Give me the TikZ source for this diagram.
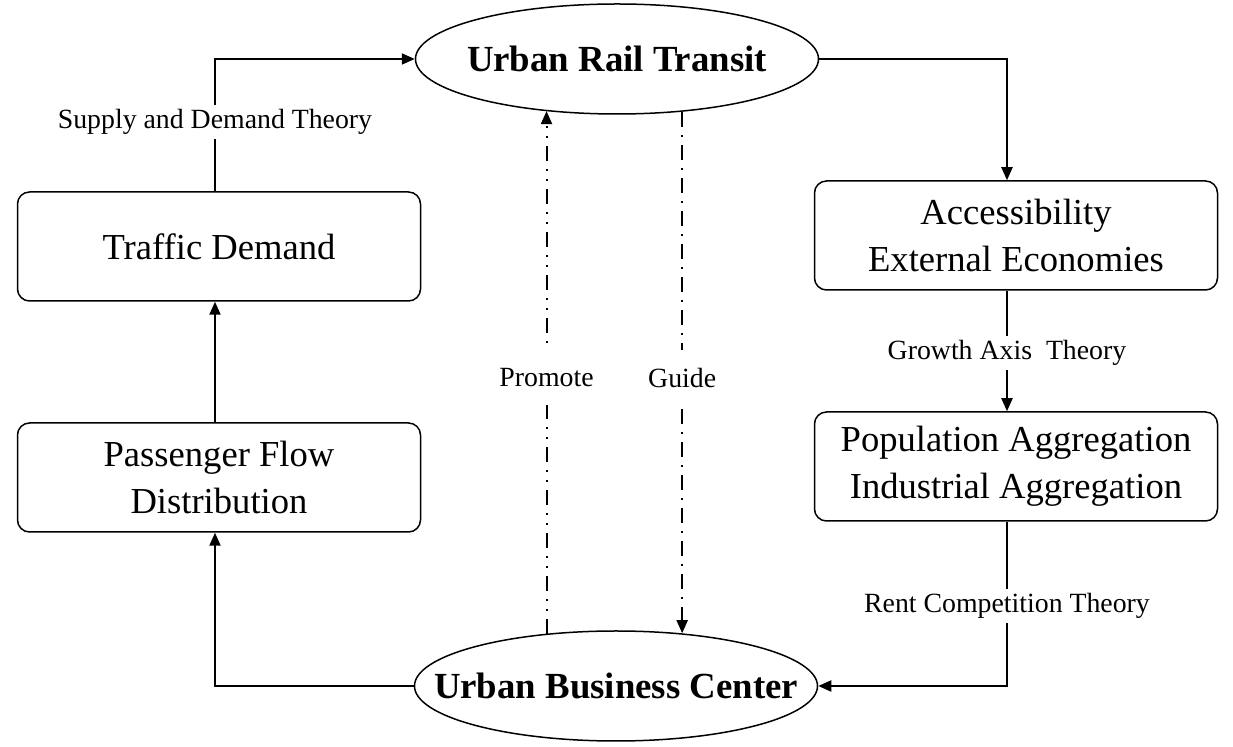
\documentclass[tikz,border=0pt]{standalone}
\usepackage{fontspec}
\setmainfont{Liberation Serif}
\usetikzlibrary{arrows.meta,calc,shapes.geometric}
\begin{document}
\begin{tikzpicture}[x=0.5pt,y=-0.5pt,
  box/.style={draw,line width=0.75pt,rounded corners=6pt,minimum width=201.5pt,minimum height=54.5pt,align=center,font=\fontsize{18.3}{23.5}\selectfont,inner sep=0pt},
  oval/.style={draw,ellipse,line width=0.75pt,minimum width=201.5pt,minimum height=55pt,inner sep=0pt,font=\fontsize{18.4}{22}\selectfont\bfseries},
  conn/.style={line width=1pt,-{Triangle[length=6.5pt,width=5.5pt]}},
  lbl/.style={fill=white,inner xsep=1pt,inner ysep=2pt,font=\fontsize{13.9}{16}\selectfont},
  dlbl/.style={fill=white,inner xsep=1pt,inner ysep=9pt,font=\fontsize{13.9}{16}\selectfont},
  promote/.style={conn,dash pattern=on 7.5pt off 4pt on 1pt off 4pt on 1pt off 4pt},
  guide/.style={conn,dash pattern=on 7.5pt off 4pt on 1pt off 4pt}]
\fill[white] (0,0) rectangle (1233,747);
\useasboundingbox (0,0) rectangle (1233,747);

\node[oval] (urt) at (617,59) {\makebox[0pt]{Urban Rail Transit}};
\node[oval] (ubc) at (616,686) {\makebox[0pt]{Urban Business Center}};
\node[box] (td) at (219,246.5) {Traffic Demand};
\node[box] (pfd) at (219,477.5) {Passenger Flow\\Distribution};
\node[box] (aee) at (1016,235.5) {Accessibility\\External Economies};
\node[box] (pia) at (1016,466.5) {Population Aggregation\\Industrial Aggregation};
\coordinate (lx) at (215,0);
\coordinate (rx) at (1007,0);

\draw[conn] (td.north -| lx) |- (urt.west);
\draw[conn] (pfd.north -| lx) -- (td.south -| lx);
\draw[conn] (ubc.west) -| (pfd.south -| lx);
\draw[conn] (urt.east) -| (aee.north -| rx);
\draw[conn] (aee.south -| rx) -- (pia.north -| rx);
\draw[conn] (pia.south -| rx) |- (ubc.east);

\node[lbl] (l1) at (215,122) {Supply and Demand Theory};
\node[lbl] (l2) at (1007,353) {Growth Axis\ \ Theory};
\node[lbl] (l3) at (1007,606) {Rent Competition Theory};

\draw[promote] (ubc.143) -- node[dlbl,pos=0.49] (l4) {Promote} (ubc.143 |- urt.216);
\draw[guide] (urt.321) -- node[dlbl,pos=0.51] (l5) {Guide} (urt.321 |- ubc.39);
\end{tikzpicture}
\end{document}
